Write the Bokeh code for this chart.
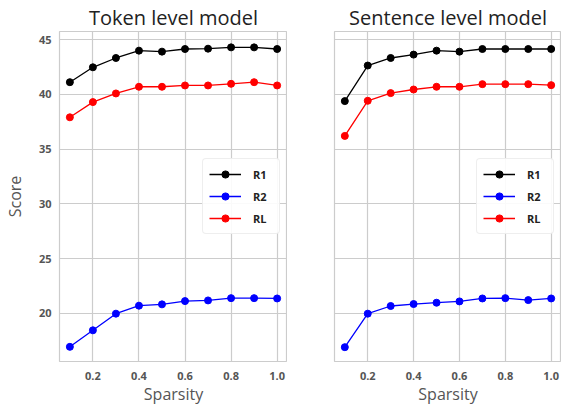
from bokeh.plotting import figure
from bokeh.layouts import row
from bokeh.models import Range1d, FixedTicker, PrintfTickFormatter
from bokeh.embed import file_html
from bokeh.resources import INLINE

sparsity = [0.1, 0.2, 0.3, 0.4, 0.5, 0.6, 0.7, 0.8, 0.9, 1.0]

token_r1 = [41.12, 42.48, 43.33, 44.0, 43.91, 44.15, 44.18, 44.30, 44.30, 44.15]
token_r2 = [16.94, 18.45, 19.97, 20.70, 20.82, 21.12, 21.18, 21.39, 21.39, 21.36]
token_rl = [37.91, 39.30, 40.09, 40.70, 40.70, 40.82, 40.82, 40.97, 41.12, 40.82]

sent_r1 = [39.39, 42.64, 43.33, 43.64, 44.0, 43.91, 44.15, 44.15, 44.15, 44.15]
sent_r2 = [16.91, 19.97, 20.67, 20.85, 20.97, 21.09, 21.36, 21.39, 21.21, 21.36]
sent_rl = [36.21, 39.42, 40.12, 40.45, 40.70, 40.70, 40.94, 40.94, 40.94, 40.85]

titles = ["Token level model", "Sentence level model"]
series_names = ["R1", "R2", "RL"]
series_colors = ["black", "blue", "red"]
x_ticks = [0.2, 0.4, 0.6, 0.8, 1.0]
y_ticks = [20, 25, 30, 35, 40, 45]

FONT = "Open Sans"
x_range = Range1d(0.055, 1.045)
y_range = Range1d(15.6, 45.75)


def make_fig(title, data, first):
    p = figure(frame_width=(228 if first else 227), frame_height=330,
               x_range=x_range, y_range=y_range,
               output_backend="svg", toolbar_location=None,
               min_border_left=(50 if first else 47), min_border_right=0,
               min_border_top=30, min_border_bottom=40)
    p.title.text = title
    p.title.align = "center"
    p.title.text_font = FONT
    p.title.text_font_size = "20px"
    p.title.text_font_style = "normal"
    p.title.text_color = "#222222"
    p.title.standoff = 2
    p.outline_line_color = "#cccccc"
    p.outline_line_width = 1.2
    p.background_fill_color = "white"
    p.border_fill_color = "white"
    for g in (p.xgrid, p.ygrid):
        g.grid_line_color = "#cccccc"
        g.grid_line_width = 1.2
    p.xgrid.ticker = FixedTicker(ticks=x_ticks)
    p.ygrid.ticker = FixedTicker(ticks=y_ticks)
    p.xaxis.ticker = FixedTicker(ticks=x_ticks)
    p.yaxis.ticker = FixedTicker(ticks=y_ticks)
    p.xaxis.formatter = PrintfTickFormatter(format="%.1f")
    for ax in (p.xaxis[0], p.yaxis[0]):
        ax.axis_line_color = None
        ax.major_tick_line_color = None
        ax.minor_tick_line_color = None
        ax.major_tick_out = 0
        ax.major_tick_in = 0
        ax.minor_tick_out = 0
        ax.minor_tick_in = 0
        ax.major_label_text_font = FONT
        ax.major_label_text_font_size = "11px"
        ax.major_label_text_font_style = "bold"
        ax.major_label_text_color = "#555555"
        ax.axis_label_text_font = FONT
        ax.axis_label_text_font_size = "16px"
        ax.axis_label_text_font_style = "normal"
        ax.axis_label_text_color = "#555555"
    p.xaxis.axis_label = "Sparsity"
    p.xaxis.major_label_standoff = 10
    p.xaxis.axis_label_standoff = 0
    p.yaxis.major_label_standoff = 8
    p.yaxis.axis_label_standoff = 10
    if first:
        p.yaxis.axis_label = "Score"
    else:
        p.yaxis.major_label_text_font_size = "0px"
        p.yaxis.major_label_text_color = None
    for name, color, vals in zip(series_names, series_colors, data):
        p.line(sparsity, vals, color=color, line_width=1.3, legend_label=name)
        p.scatter(sparsity, vals, color=color, size=7, legend_label=name)
    lg = p.legend[0]
    lg.location = "center_right"
    lg.margin = 7
    lg.padding = 6
    lg.spacing = 4
    lg.glyph_width = 32
    lg.glyph_height = 18
    lg.label_standoff = 12
    lg.label_text_font = FONT
    lg.label_text_font_size = "11px"
    lg.label_text_font_style = "bold"
    lg.label_text_color = "#222222"
    lg.border_line_color = "#dddddd"
    lg.border_radius = 4
    lg.background_fill_alpha = 0.9
    return p


p1 = make_fig(titles[0], [token_r1, token_r2, token_rl], True)
p2 = make_fig(titles[1], [sent_r1, sent_r2, sent_rl], False)
p = row(p1, p2)
open("out.html", "w").write(file_html(p, INLINE))
